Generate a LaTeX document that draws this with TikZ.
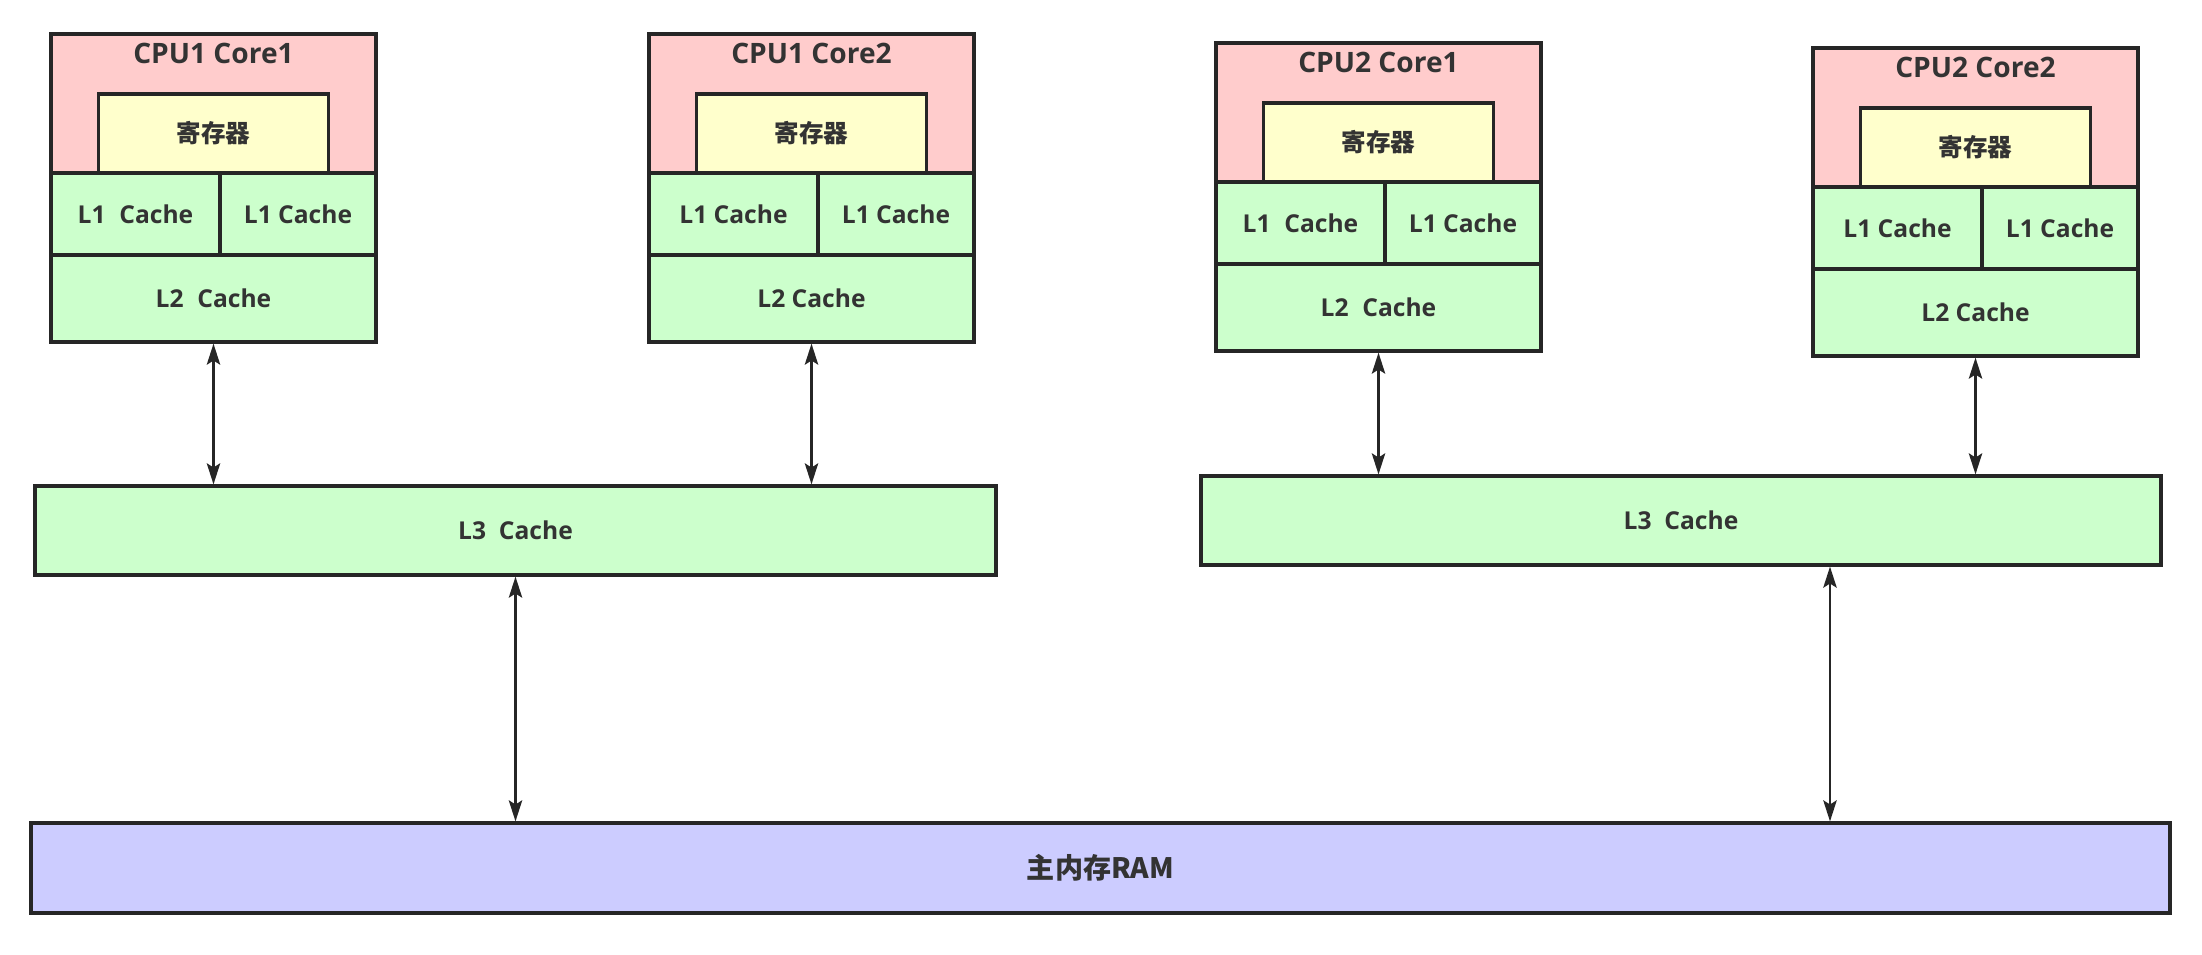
\documentclass[tikz,border=0pt]{standalone}
\usepackage{fontspec}
\setmainfont{Open Sans}
\newfontfamily\cjk{Noto Sans CJK SC}
\usetikzlibrary{arrows.meta}
\definecolor{corepink}{HTML}{FFCCCC}
\definecolor{regyellow}{HTML}{FFFFCC}
\definecolor{cachegreen}{HTML}{CCFFCC}
\definecolor{ramblue}{HTML}{CCCCFF}

\begin{document}
\begin{tikzpicture}
  [x=0.1mm,y=-0.1mm,
   box/.style={draw=black!85,line width=0.9pt,inner sep=0pt,text=black!80,
     font=\fontsize{7}{8}\selectfont\bfseries},
   core/.style={box,fill=corepink,minimum width=32.5mm,minimum height=13.9mm},
   title/.style={inner sep=0pt,text=black!80,font=\fontsize{8}{9}\selectfont\bfseries},
   reg/.style={box,fill=regyellow,minimum width=23mm,minimum height=7.9mm},
   cache/.style={box,fill=cachegreen,minimum height=8.2mm},
   ram/.style={box,fill=ramblue,font=\fontsize{8}{9}\selectfont\bfseries},
   link/.style={<->,>={Stealth[length=6pt,width=3.8pt,inset=1.2pt]},line width=0.75pt,black!85}]
  \useasboundingbox[fill=white] (0,0) rectangle (2202,954);

  \foreach \x/\y/\name/\gp [count=\i] in {51/34/CPU1 Core1/0.3em,649/34/CPU1 Core2/0em,
      1216/43/CPU2 Core1/0.3em,1813/48/CPU2 Core2/0em} {
    \node[core] (core\i) at (\x+162.5,\y+69.5) {};
    \node[title] (name\i) at (\x+162.5,\y+19) {\name};
    \node[reg] (reg\i) at (\x+162.5,\y+99.5) {\cjk 寄存器};
    \node[cache,minimum width=16.9mm] (l1a\i) at (\x+84.5,\y+180) {L1\hspace{\gp} Cache};
    \node[cache,minimum width=15.6mm] (l1b\i) at (\x+247,\y+180) {L1 Cache};
    \node[cache,minimum width=32.5mm,minimum height=8.7mm] (l2\i) at (\x+162.5,\y+264.5) {L2\hspace{\gp} Cache};
  }

  \node[cache,minimum width=96.1mm,minimum height=8.9mm] (l3a) at (515.5,530.5) {L3~ Cache};
  \node[cache,minimum width=96mm,minimum height=8.9mm] (l3b) at (1681,520.5) {L3~ Cache};
  \node[ram,minimum width=213.9mm,minimum height=9mm] (ram) at (1100.5,868) {\cjk 主内存RAM};
  \coordinate (tap) at (1830,823);

  \foreach \from/\to in {l21/l3a,l22/l3a,l23/l3b,l24/l3b,l3a/ram}
    \draw[link] (\from.south) -- (\from.south |- \to.north);
  \draw[link] (tap |- l3b.south) -- (tap |- ram.north);
\end{tikzpicture}
\end{document}
